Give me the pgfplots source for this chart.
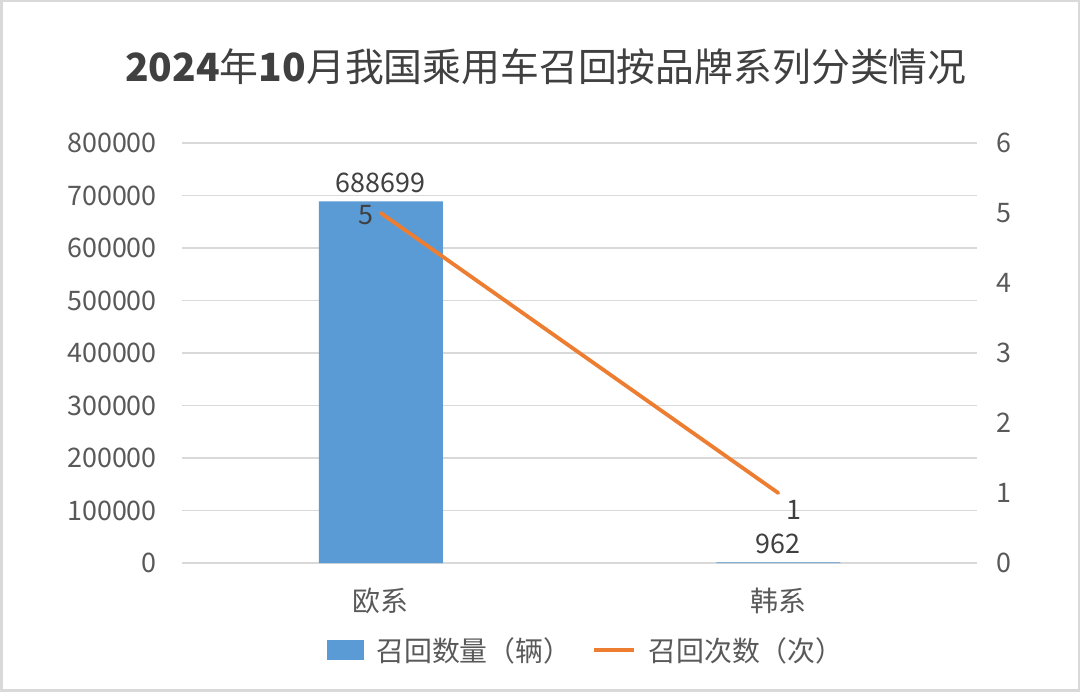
\documentclass[border=0pt]{standalone}
\usepackage{pgfplots}
\pgfplotsset{compat=1.18}
\usepackage{fontspec}
\setmainfont{Noto Sans CJK SC}
\definecolor{barblue}{HTML}{5B9BD5}
\definecolor{lineorange}{HTML}{ED7D31}
\definecolor{gridgray}{HTML}{D9D9D9}
\definecolor{txtgray}{HTML}{595959}
\definecolor{titlegray}{HTML}{404040}
\newcommand{\tickfont}{\fontsize{27}{30}\selectfont}

\begin{document}
\begin{tikzpicture}
\fill[white] (0,0) rectangle (1080bp,692bp);
\draw[gridgray, line width=2.5bp] (1.25bp,1.25bp) rectangle (1078.75bp,690.75bp);
\useasboundingbox (0,0) rectangle (1080bp,692bp);
\node[titlegray, font=\fontsize{39}{43}\selectfont] at (546bp,625bp)
  {{\bfseries 2024}年{\bfseries 10}月我国乘用车召回按品牌系列分类情况};

% bars: recall volume, left axis
\begin{axis}[
    at={(182bp,129bp)}, anchor=south west, scale only axis,
    width=795bp, height=420bp,
    xmin=0.5, xmax=2.5, ymin=0, ymax=800000,
    xtick={1,2}, xticklabels={欧系,韩系},
    ytick={0,100000,...,800000},
    scaled y ticks=false,
    /pgf/number format/assume math mode=true,
    yticklabel style={/pgf/number format/fixed, /pgf/number format/1000 sep={},
        inner sep=0pt, anchor=east, xshift=-25bp},
    xticklabel style={inner sep=0pt, anchor=north, yshift=-25bp, font=\fontsize{28}{30}\selectfont},
    tick label style={font=\tickfont, text=txtgray},
    axis line style={draw=none},
    major tick length=0pt,
    ymajorgrids, grid style={gridgray, line width=1.5bp},
    clip=false,
    legend style={at={(0.5075,-0.207)}, anchor=center, draw=none, fill=none,
        font=\fontsize{28}{30}\selectfont, text=txtgray,
        legend columns=-1, nodes={inner sep=0pt},
        /tikz/every odd column/.append style={column sep=12bp},
        /tikz/every even column/.append style={column sep=21bp}},
]
\addplot[ybar, bar width=124bp, fill=barblue, draw=none,
    point meta=explicit symbolic, nodes near coords,
    nodes near coords style={font=\tickfont, text=titlegray, inner sep=0pt, anchor=south, yshift=8bp},
    legend image code/.code={\fill[barblue] (0bp,-10bp) rectangle (37bp,10bp);}]
    coordinates {(1,688699) [688699] (2,962) [962]};
\addlegendentry{召回数量（辆）}
\addlegendimage{legend image code/.code={\draw[lineorange, line width=3.8bp] (0bp,0bp) -- (40bp,0bp);}}
\addlegendentry{召回次数（次）}
\end{axis}

% line: recall count, right axis
\begin{axis}[
    at={(182bp,129bp)}, anchor=south west, scale only axis,
    width=795bp, height=420bp,
    xmin=0.5, xmax=2.5, ymin=0, ymax=6,
    axis y line*=right, axis x line=none,
    xtick=\empty, ytick={0,1,...,6},
    /pgf/number format/assume math mode=true,
    yticklabel style={inner sep=0pt, anchor=west, xshift=19bp, font=\tickfont, text=txtgray},
    axis line style={draw=none},
    major tick length=0pt,
    clip=false,
]
\addplot[lineorange, line width=3.8bp, line cap=round] coordinates {(1,5) (2,1)};
\addplot[draw=none, point meta=explicit symbolic, nodes near coords,
    nodes near coords style={font=\tickfont, text=titlegray, inner sep=0pt, anchor=center, xshift=-15bp, yshift=-2bp}]
    coordinates {(1,5) [5]};
\addplot[draw=none, point meta=explicit symbolic, nodes near coords,
    nodes near coords style={font=\tickfont, text=titlegray, inner sep=0pt, anchor=center, xshift=16bp, yshift=-17bp}]
    coordinates {(2,1) [1]};
\end{axis}
\end{tikzpicture}
\end{document}
